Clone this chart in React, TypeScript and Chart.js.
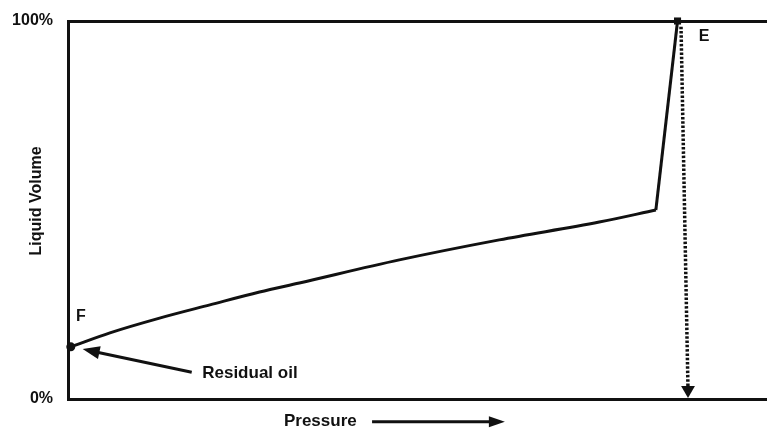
import React, { useEffect, useRef } from "react";
import { Chart, registerables } from "chart.js";
Chart.register(...registerables);

// Pressure (0..100 relative) and liquid volume (%)
const curvePressure = [0.4, 6, 13.1, 20.3, 27.4, 33.1, 47.4, 61.7, 76, 84.1];
const curveLiquid = [13.8, 17.5, 21.4, 24.9, 28.3, 30.7, 36.8, 42.1, 46.8, 50.0];
const risePressure = [84.1, 87.2];
const riseLiquid = [50.0, 100];
const dropPressure = [87.7, 88.7];
const dropLiquid = [98.5, 2.4];
const yTickValues = [0, 100];

const pointLabels = [
  { text: "F", x: 1.86, y: 21.7 },
  { text: "E", x: 91.0, y: 96.0 },
];
const residualLabel = { text: "Residual oil", x: 19.2, y: 6.9 };
const residualArrow = { fromX: 17.7, fromY: 7.1, toX: 2.1, toY: 13.2 };
const xTitle = { text: "Pressure", x: 36.1, y: -5.8 };
const xTitleArrow = { fromX: 43.5, toX: 62.5, y: -6.0 };
const yTitle = { text: "Liquid Volume", y: 52.4 };

const INK = "#111111";
const FONT = '"Liberation Sans", Arial, sans-serif';

function toXY(xs: number[], ys: number[]) {
  return xs.map((x, i) => ({ x, y: ys[i] }));
}

function arrowHead(ctx: CanvasRenderingContext2D, x1: number, y1: number, x2: number, y2: number, len: number, half: number) {
  const a = Math.atan2(y2 - y1, x2 - x1);
  ctx.beginPath();
  ctx.moveTo(x2, y2);
  ctx.lineTo(x2 - len * Math.cos(a) + half * Math.sin(a), y2 - len * Math.sin(a) - half * Math.cos(a));
  ctx.lineTo(x2 - len * Math.cos(a) - half * Math.sin(a), y2 - len * Math.sin(a) + half * Math.cos(a));
  ctx.closePath();
  ctx.fill();
}

const annotations = {
  id: "annotations",
  afterDatasetsDraw(chart: any) {
    const { ctx, scales, chartArea } = chart;
    const X = (v: number) => scales.x.getPixelForValue(v);
    const Y = (v: number) => scales.y.getPixelForValue(v);
    ctx.save();
    ctx.fillStyle = INK;
    ctx.strokeStyle = INK;
    ctx.textBaseline = "middle";

    ctx.font = `bold 16px ${FONT}`;
    ctx.textAlign = "center";
    pointLabels.forEach((p) => ctx.fillText(p.text, X(p.x), Y(p.y)));

    ctx.font = `bold 17px ${FONT}`;
    ctx.textAlign = "left";
    ctx.fillText(residualLabel.text, X(residualLabel.x), Y(residualLabel.y));

    // residual oil arrow
    const ax1 = X(residualArrow.fromX), ay1 = Y(residualArrow.fromY);
    const ax2 = X(residualArrow.toX), ay2 = Y(residualArrow.toY);
    ctx.lineWidth = 3;
    ctx.beginPath();
    ctx.moveTo(ax1, ay1);
    const ang = Math.atan2(ay2 - ay1, ax2 - ax1);
    ctx.lineTo(ax2 - 10 * Math.cos(ang), ay2 - 10 * Math.sin(ang));
    ctx.stroke();
    arrowHead(ctx, ax1, ay1, ax2, ay2, 17, 6.5);

    // x title + arrow
    ctx.textAlign = "center";
    ctx.fillText(xTitle.text, X(xTitle.x), Y(xTitle.y));
    const px1 = X(xTitleArrow.fromX), px2 = X(xTitleArrow.toX), py = Y(xTitleArrow.y);
    ctx.beginPath();
    ctx.moveTo(px1, py);
    ctx.lineTo(px2 - 10, py);
    ctx.stroke();
    arrowHead(ctx, px1, py, px2, py, 16, 5.5);

    // y title
    ctx.save();
    ctx.translate(chartArea.left - 31, Y(yTitle.y));
    ctx.rotate(-Math.PI / 2);
    ctx.font = `bold 16px ${FONT}`;
    ctx.textAlign = "center";
    ctx.fillText(yTitle.text, 0, 0);
    ctx.restore();

    ctx.restore();
  },
};

export default function App() {
  const ref = useRef<HTMLCanvasElement | null>(null);
  useEffect(() => {
    if (!ref.current) return;
    const chart = new Chart(ref.current, {
      type: "line",
      data: {
        datasets: [
          {
            data: toXY(curvePressure, curveLiquid),
            borderColor: INK,
            borderWidth: 3,
            cubicInterpolationMode: "monotone",
            pointRadius: curvePressure.map((_, i) => (i === 0 ? 4.5 : 0)),
            pointBackgroundColor: INK,
            pointBorderWidth: 0,
            clip: false,
          } as any,
          {
            data: toXY(risePressure, riseLiquid),
            borderColor: INK,
            borderWidth: 3,
            tension: 0,
            pointStyle: "rect",
            pointRadius: [0, 5],
            pointBackgroundColor: INK,
            pointBorderWidth: 0,
            clip: false,
          } as any,
          {
            data: toXY(dropPressure, dropLiquid),
            borderColor: INK,
            borderWidth: 3.5,
            borderDash: [2.5, 1.8],
            borderCapStyle: "butt",
            tension: 0,
            pointStyle: "triangle",
            rotation: 180,
            pointRadius: [0, 8],
            pointBackgroundColor: INK,
            pointBorderWidth: 0,
            clip: false,
          } as any,
        ],
      },
      options: {
        animation: false,
        responsive: true,
        maintainAspectRatio: false,
        layout: { autoPadding: false, padding: { top: 21, left: 0, right: 0, bottom: 0 } },
        plugins: { legend: { display: false }, tooltip: { enabled: false } },
        scales: {
          x: {
            type: "linear",
            min: 0,
            max: 100,
            ticks: { display: false },
            grid: { display: false, drawTicks: false },
            border: { display: true, color: INK, width: 3 },
            afterFit: (s: any) => {
              s.height = 29;
            },
          },
          y: {
            type: "linear",
            min: 0,
            max: 100,
            afterBuildTicks: (s: any) => {
              s.ticks = yTickValues.map((v) => ({ value: v }));
            },
            ticks: {
              color: INK,
              font: { family: FONT, size: 16, weight: "bold" },
              padding: 15,
              callback: (v: any) => `${v}%`,
            },
            grid: { display: true, drawOnChartArea: true, drawTicks: false, color: INK, lineWidth: 3 },
            border: { display: true, color: INK, width: 3 },
            afterFit: (s: any) => {
              s.width = 68;
              s.paddingTop = 0;
              s.paddingBottom = 0;
            },
          },
        },
      },
      plugins: [annotations],
    });
    return () => chart.destroy();
  }, []);
  return (
    <div style={{ position: "absolute", left: 0, top: 0, width: 767, height: 428, background: "#fff" }}>
      <canvas ref={ref} />
    </div>
  );
}
